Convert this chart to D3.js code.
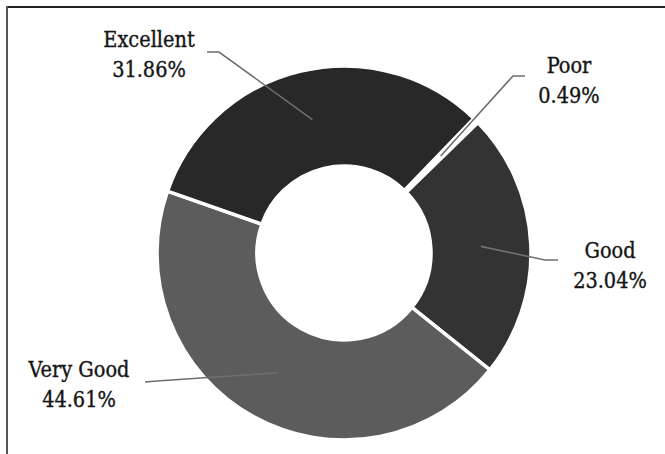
<!DOCTYPE html>
<html>
<head>
<meta charset="utf-8">
<script src="https://cdn.jsdelivr.net/npm/d3@7"></script>
<style>
  html, body { margin: 0; padding: 0; background: #fff; }
  svg { display: block; }
</style>
</head>
<body>
<svg id="chart" width="665" height="454"></svg>
<script>
// ---- data ----
const categories = ["Poor", "Good", "Very Good", "Excellent"];
const values = [0.49, 23.04, 44.61, 31.86];
const valueLabels = ["0.49%", "23.04%", "44.61%", "31.86%"];

// ---- styles / layout ----
const colors = { "Poor": "#ffffff", "Good": "#333333", "Very Good": "#5c5c5c", "Excellent": "#282828" };
const cx = 344, cy = 253, outerR = 187, innerR = 87;
const startDeg = 44;
// label text centre + leader elbow (label side)
const labelLayout = {
  "Excellent": { x: 149, y: 47, line: [[207, 52], [219, 52]] },
  "Poor":      { x: 569, y: 73, line: [[525, 76], [513, 76]] },
  "Good":      { x: 610, y: 258, line: [[558, 260], [545, 260]] },
  "Very Good": { x: 79,  y: 377, line: [[145, 382], [157, 381]] }
};

const svg = d3.select("#chart");
const W = 665, H = 454;

// frame
svg.append("line").attr("x1", 6).attr("x2", W).attr("y1", 7).attr("y2", 7)
  .attr("stroke", "#222").attr("stroke-width", 2);
svg.append("line").attr("x1", 7).attr("x2", 7).attr("y1", 6).attr("y2", H)
  .attr("stroke", "#555").attr("stroke-width", 2);

const data = categories.map((c, i) => ({ cat: c, value: values[i], label: valueLabels[i] }));

const pie = d3.pie().sort(null).value(d => d.value)
  .startAngle(startDeg * Math.PI / 180)
  .endAngle(startDeg * Math.PI / 180 + 2 * Math.PI);
const arcs = pie(data);
const arc = d3.arc().innerRadius(innerR).outerRadius(outerR);

const g = svg.append("g").attr("transform", `translate(${cx},${cy})`);
g.selectAll("path.slice").data(arcs).join("path")
  .attr("class", "slice")
  .attr("d", arc)
  .attr("fill", d => colors[d.data.cat])
  .attr("stroke", "#fff")
  .attr("stroke-width", 3.5)
  .attr("stroke-linejoin", "miter");

// leader lines
const line = d3.line();
arcs.forEach(a => {
  const L = labelLayout[a.data.cat];
  const c = arc.centroid(a);
  const pts = L.line.concat([[cx + c[0], cy + c[1]]]);
  svg.append("path").attr("d", line(pts))
    .attr("fill", "none").attr("stroke", "#6f6f6f").attr("stroke-width", 1.6);
});

// labels
arcs.forEach(a => {
  const L = labelLayout[a.data.cat];
  const t = svg.append("text")
    .attr("x", L.x).attr("y", L.y)
    .attr("text-anchor", "middle")
    .attr("font-family", "'DejaVu Serif Condensed', 'DejaVu Serif', serif")
    .attr("font-stretch", "condensed")
    .attr("font-size", 21.5)
    .attr("fill", "#151515")
    .attr("stroke", "#151515")
    .attr("stroke-width", 0.35);
  t.append("tspan").attr("x", L.x).attr("dy", 0).text(a.data.cat);
  t.append("tspan").attr("x", L.x).attr("dy", 30).text(a.data.label);
});
</script>
</body>
</html>
